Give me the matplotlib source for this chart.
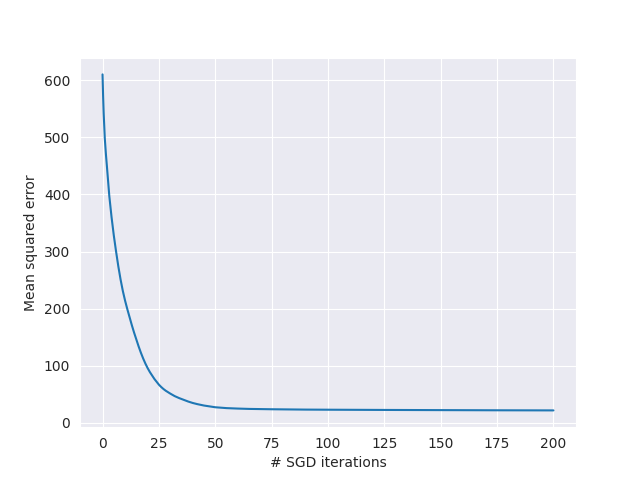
import matplotlib
matplotlib.use('Agg')
import matplotlib.pyplot as plt
import seaborn as sns

# SGD loss curve
iterations = [0, 0.25, 0.5, 1, 1.5, 2, 3, 4, 5, 6, 7, 8, 9, 10, 11, 12, 13,
              14, 15, 16, 17, 18, 19, 20, 21, 22, 23, 24, 25, 26, 27, 28, 30,
              32, 34, 36, 38, 40, 42, 45, 50, 55, 60, 65, 75, 90, 100, 125,
              150, 175, 200]
mse = [610, 572, 542, 498, 470, 446, 397, 360, 328, 300, 274, 251, 231, 214,
       199, 185, 171, 158, 146, 134, 123, 113, 104, 96, 89, 83, 77, 72, 67,
       63, 59.5, 56.5, 51.5, 47, 43.5, 40.5, 37.5, 35, 33, 30.5, 27.5, 26,
       25.2, 24.6, 24, 23.4, 23.2, 22.8, 22.5, 22.2, 22]

sns.set_style("darkgrid")

plt.figure(figsize=(6.4, 4.8), dpi=100)
plt.plot(iterations, mse, color='#1f77b4', linewidth=1.5)
plt.xlabel('# SGD iterations')
plt.ylabel('Mean squared error')
plt.savefig('out.png', dpi=100)
plt.close()
